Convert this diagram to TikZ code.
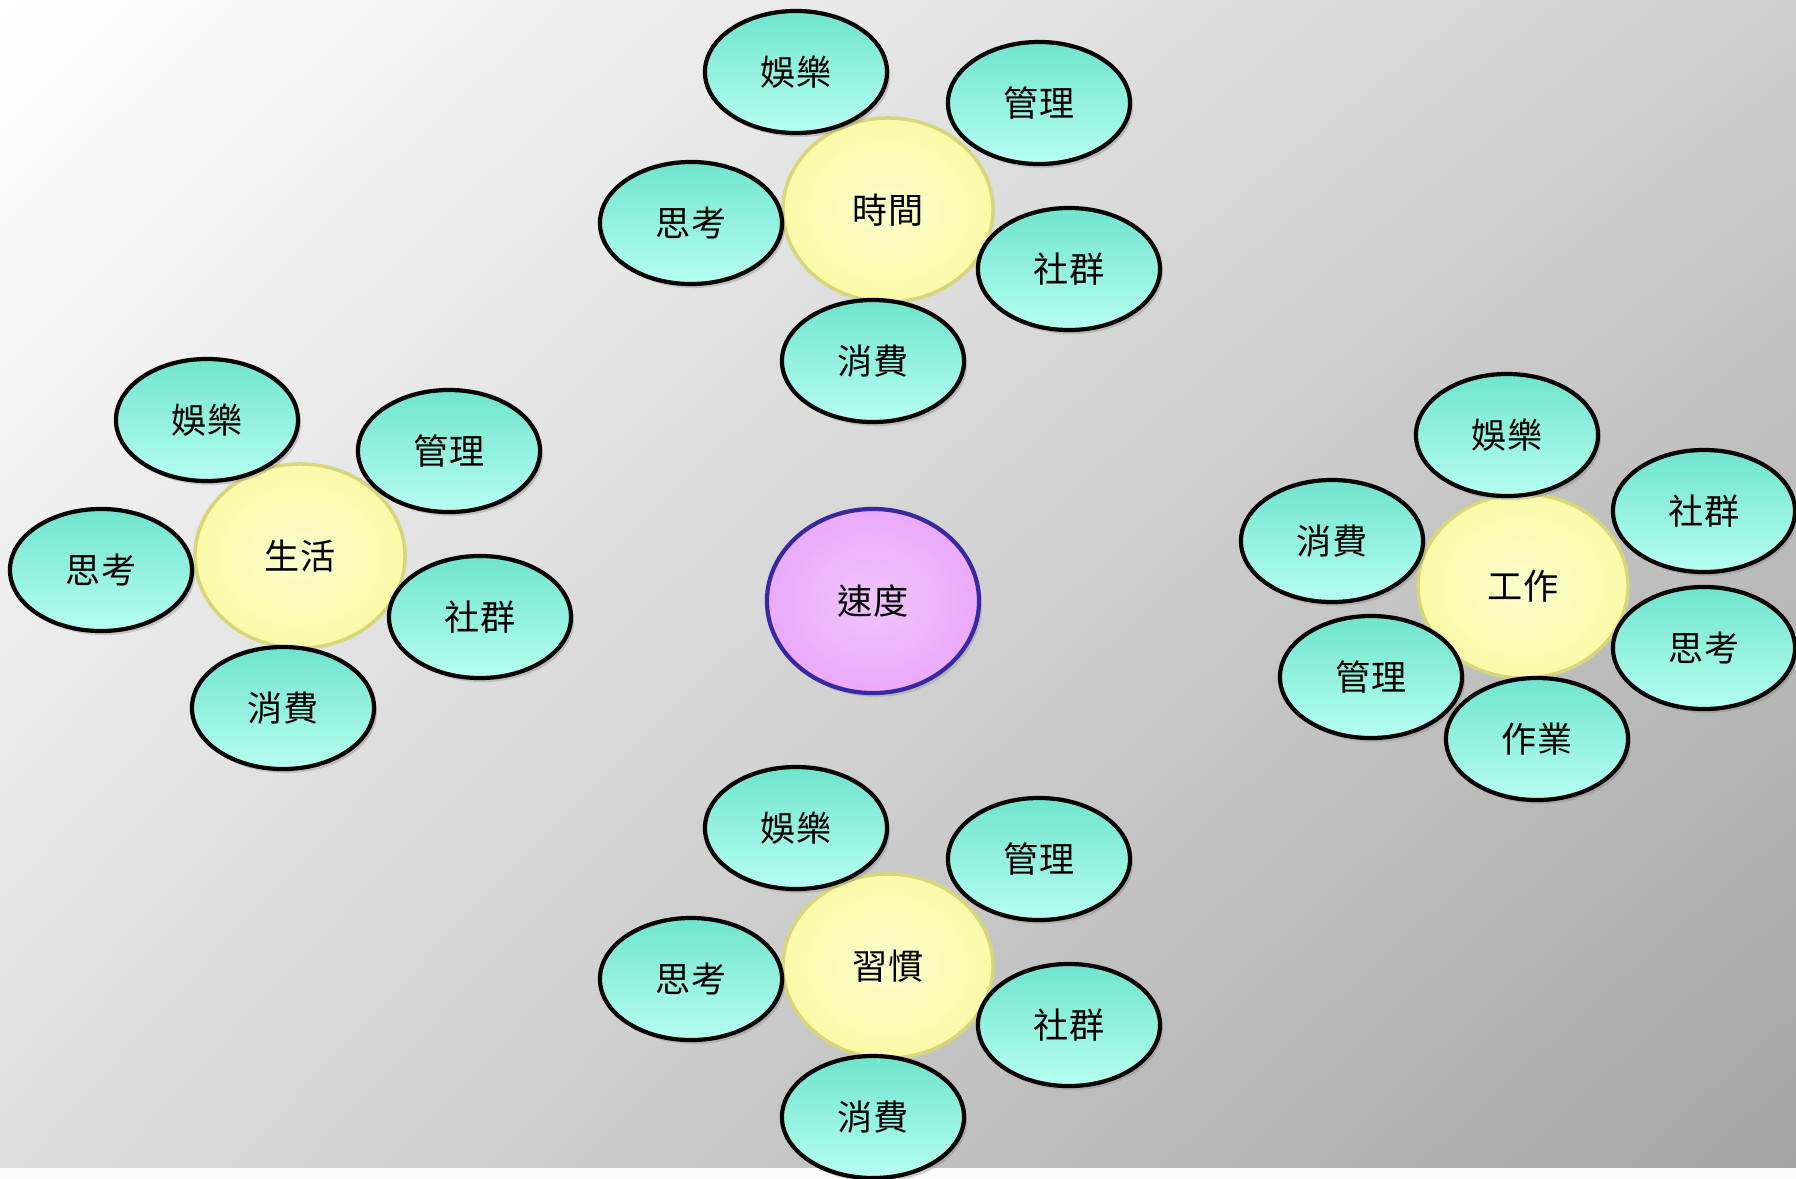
\documentclass[tikz,border=0pt]{standalone}
\usepackage{fontspec}
\newfontfamily\cjk{Noto Sans CJK TC}
\usetikzlibrary{shapes.geometric,shadows,shadings}

\definecolor{tealtop}{RGB}{112,228,204}
\definecolor{tealbot}{RGB}{182,255,242}
\definecolor{hubfill}{RGB}{250,250,168}
\definecolor{hubline}{RGB}{214,214,122}
\definecolor{spfill}{RGB}{234,170,250}
\definecolor{spline}{RGB}{58,40,160}
\definecolor{bgtr}{RGB}{206,206,206}
\definecolor{bgbl}{RGB}{222,222,222}
\definecolor{bgbr}{RGB}{164,164,164}

\tikzset{
  leaf/.style={ellipse, draw=black, line width=1.2pt,
    top color=tealtop, bottom color=tealbot,
    minimum width=1.82cm, minimum height=1.22cm, inner sep=0pt,
    drop shadow={opacity=0.35, shadow xshift=0.03cm, shadow yshift=-0.04cm}},
  hub/.style={ellipse, draw=hubline, line width=1pt,
    inner color=hubfill!60!white, outer color=hubfill,
    minimum width=2.1cm, minimum height=1.84cm, inner sep=0pt},
  speed/.style={ellipse, draw=spline, line width=1.2pt,
    inner color=spfill!70!white, outer color=spfill,
    minimum width=2.12cm, minimum height=1.84cm, inner sep=0pt,
    drop shadow={opacity=0.3, shadow xshift=0.03cm, shadow yshift=-0.04cm}}
}

\begin{document}
\begin{tikzpicture}[
      every node/.style={font=\cjk\fontsize{10pt}{12pt}\selectfont},
      x=0.01cm,
      y=-0.01cm]
    \useasboundingbox (0,0) rectangle (1796,1178);
    \shade[upper left=white, upper right=bgtr,
      lower left=bgbl, lower right=bgbr]
      (0,0) rectangle (1796,1168);
    \fill[white!96!gray] (0,1168) rectangle (1796,1178);

    % centre
    \node[speed] (sp) at (873,601) {速度};

    % top: time
    \node[hub]  (t0) at (888,210) {時間};
    \node[leaf] (t1) at (796, 72) {娛樂};
    \node[leaf] (t2) at (1039,103) {管理};
    \node[leaf] (t3) at (691,223) {思考};
    \node[leaf] (t4) at (1069,269) {社群};
    \node[leaf] (t5) at (873,361) {消費};

    % left: life
    \node[hub]  (l0) at (300,556) {生活};
    \node[leaf] (l1) at (207,420) {娛樂};
    \node[leaf] (l2) at (449,451) {管理};
    \node[leaf] (l3) at (101,570) {思考};
    \node[leaf] (l4) at (480,617) {社群};
    \node[leaf] (l5) at (283,708) {消費};

    % right: work
    \node[hub]  (r0) at (1523,586) {工作};
    \node[leaf] (r1) at (1507,435) {娛樂};
    \node[leaf] (r2) at (1704,511) {社群};
    \node[leaf] (r3) at (1332,541) {消費};
    \node[leaf] (r4) at (1704,648) {思考};
    \node[leaf] (r5) at (1371,677) {管理};
    \node[leaf] (r6) at (1537,739) {作業};

    % bottom: habit
    \node[hub]  (b0) at (888,966) {習慣};
    \node[leaf] (b1) at (796,828) {娛樂};
    \node[leaf] (b2) at (1039,859) {管理};
    \node[leaf] (b3) at (691,979) {思考};
    \node[leaf] (b4) at (1069,1025) {社群};
    \node[leaf] (b5) at (873,1117) {消費};

  \end{tikzpicture}
\end{document}
